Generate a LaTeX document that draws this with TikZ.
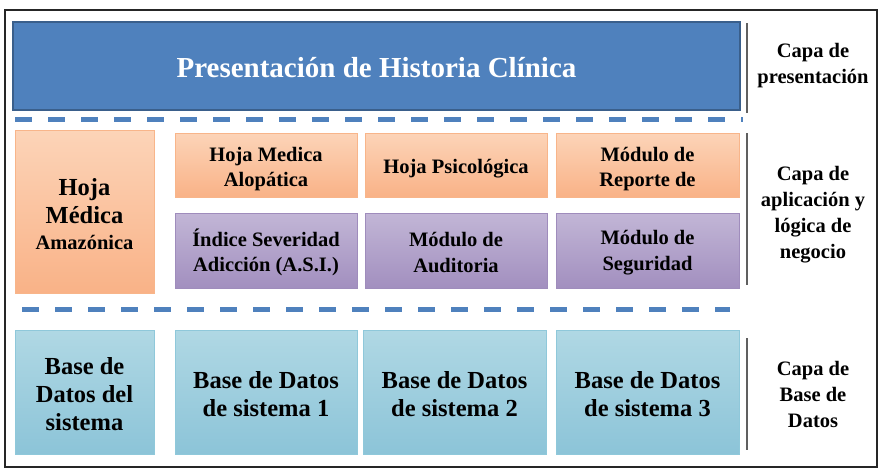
\documentclass[tikz,border=0pt]{standalone}
\usepackage{fontspec}
\setmainfont{Liberation Serif}
\newcommand\myfs{\bfseries\fontsize{20.5}{25.5}\selectfont}
\newcommand\myfl{\bfseries\fontsize{20.5}{26}\selectfont}
\newcommand\myfm{\bfseries\fontsize{24.5}{28}\selectfont}
\begin{document}
\begin{tikzpicture}[x=1pt,y=-1pt,
  fs/.style={font=\myfs},
  fm/.style={font=\myfm},
  box/.style={draw, line width=1pt, inner sep=2pt, align=center, text=black},
  orangebox/.style={box, draw=orb, top color=ora1, bottom color=ora2},
  purplebox/.style={box, draw=pur3, top color=pur1, bottom color=pur2},
  tealbox/.style={box, draw=tea3, top color=tea1, bottom color=tea2},
  tx/.style={align=center, text=black, inner sep=0pt},
  sep/.style={line width=5pt, draw=blu, dash pattern=on 17pt off 16pt},
  vbar/.style={line width=2pt, draw=gray!75!black},
  lbl/.style={font=\myfl, align=center, text=black}
]
\definecolor{blu}{HTML}{4F81BD}
\definecolor{blub}{HTML}{3A5F8B}
\definecolor{ora1}{HTML}{FCD4B8}
\definecolor{ora2}{HTML}{F9B287}
\definecolor{pur1}{HTML}{C2B6D6}
\definecolor{pur2}{HTML}{A28FBF}
\definecolor{pur3}{HTML}{9F8CBC}
\definecolor{tea1}{HTML}{B0D8E4}
\definecolor{tea2}{HTML}{8CC4D8}
\definecolor{tea3}{HTML}{8FC8DA}
\definecolor{orb}{HTML}{F8B58A}
\useasboundingbox (0,0) rectangle (883,471);
\fill[white] (0,0) rectangle (883,471);
\draw[line width=2pt, draw=black!85] (5,10) rectangle (877,467);
% title
\node[draw=blub, line width=1.5pt, fill=blu, minimum width=727pt, minimum height=88pt,
  label={[text=white, font=\bfseries\fontsize{29}{34}\selectfont, yshift=-2pt]center:Presentación de Historia Clínica}] (title) at (376.5,66) {};
% separators
\coordinate (s1a) at (15,119); \coordinate (s1b) at (743,119);
\coordinate (s2a) at (22,309); \coordinate (s2b) at (730,309);
\draw[sep] (s1a) -- (s1b);
\draw[sep] (s2a) -- (s2b);
% application layer
\node[orangebox, minimum width=139pt, minimum height=163pt,
  label={[tx, font=\myfm, yshift=-2.5pt]center:Hoja\\Médica\\[-2pt]\myfs Amazónica}] (ham) at (84.5,211.5) {};
\node[orangebox, minimum width=182pt, minimum height=64pt,
  label={[tx, fs, yshift=-4pt]center:Hoja Medica\\Alopática}] (a1) at (266,165) {};
\node[orangebox, minimum width=182pt, minimum height=64pt,
  label={[tx, fs, yshift=-4pt]center:Hoja Psicológica}] (a2) at (456,165) {};
\node[orangebox, minimum width=183pt, minimum height=64pt,
  label={[tx, fs, yshift=-4pt]center:Módulo de\\Reporte de}] (a3) at (647.5,165) {};
\node[purplebox, minimum width=182pt, minimum height=75pt,
  label={[tx, fs, yshift=-2pt]center:Índice Severidad\\Adicción (A.S.I.)}] (b1) at (266,250.5) {};
\node[purplebox, minimum width=182pt, minimum height=75pt,
  label={[tx, fs, yshift=-2pt]center:Módulo de\\Auditoria}] (b2) at (456,250.5) {};
\node[purplebox, minimum width=183pt, minimum height=75pt,
  label={[tx, fs, yshift=-2pt]center:Módulo de\\Seguridad}] (b3) at (647.5,250.5) {};
% database layer
\node[tealbox, minimum width=139pt, minimum height=124pt,
  label={[tx, fm, yshift=-2.5pt]center:Base de\\Datos del\\sistema}] (d0) at (84.5,392) {};
\node[tealbox, minimum width=182pt, minimum height=124pt,
  label={[tx, fm, yshift=-2pt]center:Base de Datos\\de sistema 1}] (d1) at (266,392) {};
\node[tealbox, minimum width=183pt, minimum height=124pt,
  label={[tx, fm, yshift=-2pt]center:Base de Datos\\de sistema 2}] (d2) at (454.5,392) {};
\node[tealbox, minimum width=183pt, minimum height=124pt,
  label={[tx, fm, yshift=-2pt]center:Base de Datos\\de sistema 3}] (d3) at (647.5,392) {};
% vertical bars
\coordinate (v1a) at (747,23); \coordinate (v1b) at (747,113);
\coordinate (v2a) at (747,133); \coordinate (v2b) at (747,285);
\coordinate (v3a) at (747,338); \coordinate (v3b) at (747,450);
\draw[vbar] (v1a) -- (v1b);
\draw[vbar] (v2a) -- (v2b);
\draw[vbar] (v3a) -- (v3b);
% labels
\node[lbl] (l1) at (813,66) {Capa de\\presentación};
\node[lbl] (l2) at (813,214.5) {Capa de\\aplicación y\\lógica de\\negocio};
\node[lbl] (l3) at (813,394) {Capa de\\Base de\\Datos};
\end{tikzpicture}
\end{document}
